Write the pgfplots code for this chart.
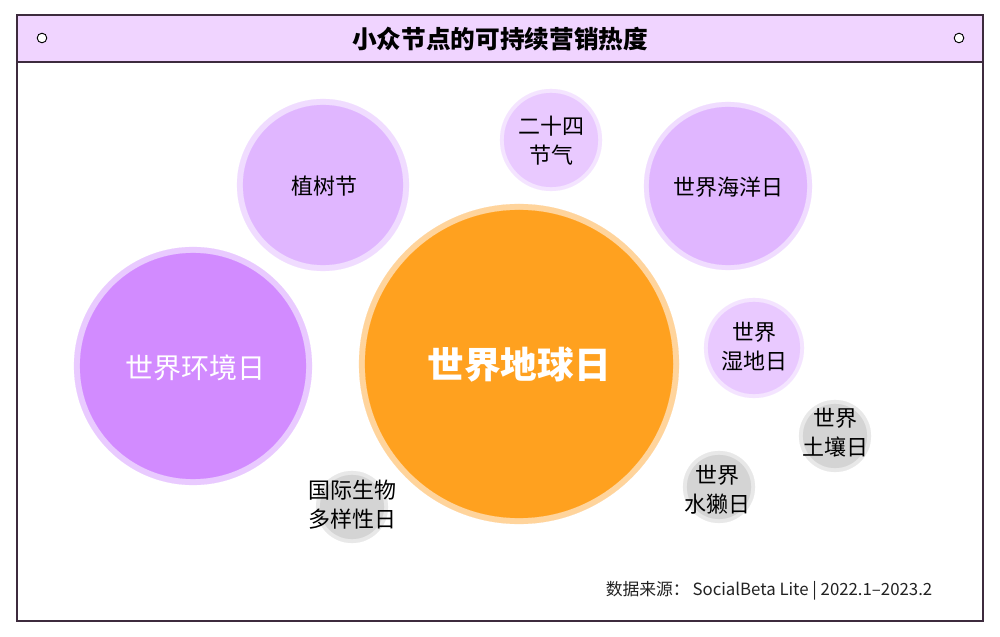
\documentclass[border=0pt]{standalone}
\usepackage{pgfplots}
\pgfplotsset{compat=1.18}
\usepackage{pgfplotstable}
\usepackage{fontspec}
\setmainfont{Noto Sans CJK SC}
\definecolor{frameC}{HTML}{3D2B3D}
\definecolor{titleC}{HTML}{F0D4FF}
\definecolor{oFill}{HTML}{FFA11F}
\definecolor{oRing}{HTML}{FFD49C}
\definecolor{p1Fill}{HTML}{D28BFF}
\definecolor{p1Ring}{HTML}{E9CAFF}
\definecolor{p2Fill}{HTML}{E0B6FF}
\definecolor{p2Ring}{HTML}{F0DCFF}
\definecolor{p3Fill}{HTML}{E9C9FF}
\definecolor{p3Ring}{HTML}{F4E4FF}
\definecolor{gFill}{HTML}{D4D4D4}
\definecolor{gRing}{HTML}{E8E8E8}
\definecolor{srcC}{HTML}{222222}

% x y (pixel position), R = outer ring radius, r = inner radius
\pgfplotstableread{
x y R r
519 364 160 154
}\bubO
\pgfplotstableread{
x y R r
193 366 119 113
}\bubPa
\pgfplotstableread{
x y R r
323 185 86 80
728 186 84 79
}\bubPb
\pgfplotstableread{
x y R r
551 140 51 47
754 348 50 46
}\bubPc
\pgfplotstableread{
x y R r
835 436 36 32
719 487 36 32
352 507 36 32
}\bubG

\pgfplotsset{
  bub/.style n args={2}{scatter, only marks, mark=*, color=#2,
    mark options={draw=#2, fill=#2, line width=0.1pt},
    scatter/use mapped color={draw=#2, fill=#2},
    visualization depends on={0.75*\thisrow{#1} \as \rad},
    scatter/@pre marker code/.append style={/tikz/mark size=\rad}},
}
\tikzset{lab/.style={align=center, text=black, font=\fontsize{16.5pt}{21.75pt}\selectfont}}

\begin{document}
\begin{tikzpicture}
\begin{axis}[
  width=750pt, height=477pt, scale only axis,
  xmin=0, xmax=1000, ymin=0, ymax=636, y dir=reverse,
  hide axis, clip=false, set layers,
]
\begin{pgfonlayer}{axis background}
\fill[white] (axis cs:0,0) rectangle (axis cs:1000,636);
\fill[titleC] (axis cs:17,15) rectangle (axis cs:983,62);
\draw[frameC, line width=1.1pt] (axis cs:17,62) -- (axis cs:983,62);
\draw[frameC, line width=1.1pt] (axis cs:17,15) rectangle (axis cs:983,621);
\end{pgfonlayer}
\addplot[only marks, mark=*, mark size=3.6pt, mark options={fill=white, draw=black, line width=0.7pt}] coordinates {(42,38) (959,38)};

% bubbles
\addplot[bub={R}{oRing}] table[x=x,y=y]{\bubO};
\addplot[bub={r}{oFill}] table[x=x,y=y]{\bubO};
\addplot[bub={R}{p1Ring}] table[x=x,y=y]{\bubPa};
\addplot[bub={r}{p1Fill}] table[x=x,y=y]{\bubPa};
\addplot[bub={R}{p2Ring}] table[x=x,y=y]{\bubPb};
\addplot[bub={r}{p2Fill}] table[x=x,y=y]{\bubPb};
\addplot[bub={R}{p3Ring}] table[x=x,y=y]{\bubPc};
\addplot[bub={r}{p3Fill}] table[x=x,y=y]{\bubPc};
\addplot[bub={R}{gRing}] table[x=x,y=y]{\bubG};
\addplot[bub={r}{gFill}] table[x=x,y=y]{\bubG};

% labels
\begin{pgfonlayer}{axis foreground}
\node[font=\bfseries\fontsize{18.5pt}{22pt}\selectfont, text=black] at (axis cs:500,39) {小众节点的可持续营销热度};
\node[text=white, font=\bfseries\fontsize{27.5pt}{32pt}\selectfont] at (axis cs:519,365) {世界地球日};
\node[text=white, font=\fontsize{21pt}{25pt}\selectfont] at (axis cs:195,368) {世界环境日};
\node[lab] at (axis cs:324,186) {植树节};
\node[lab] at (axis cs:551,141) {二十四\\节气};
\node[lab] at (axis cs:728,187) {世界海洋日};
\node[lab] at (axis cs:754,347) {世界\\湿地日};
\node[lab] at (axis cs:835,433) {世界\\土壤日};
\node[lab] at (axis cs:717,490) {世界\\水獭日};
\node[lab] at (axis cs:352,505) {国际生物\\多样性日};
\node[anchor=east, text=srcC, font=\fontsize{12.6pt}{15pt}\selectfont] at (axis cs:937,591) {数据来源：\,SocialBeta Lite | 2022.1–2023.2};
\end{pgfonlayer}
\end{axis}
\end{tikzpicture}
\end{document}
